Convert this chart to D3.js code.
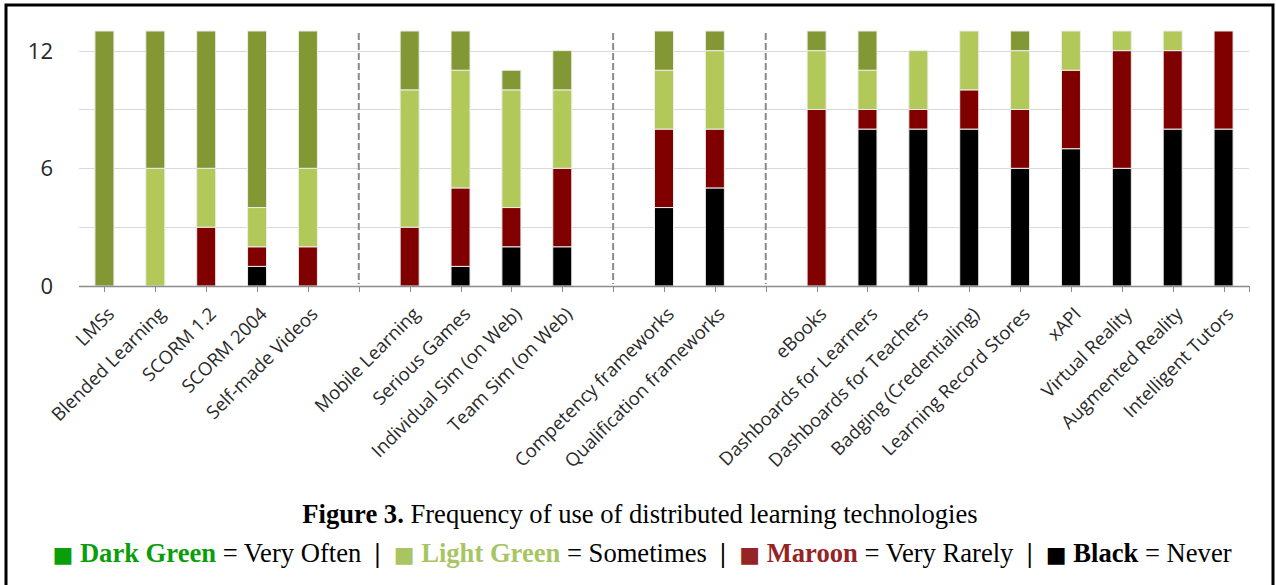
<!DOCTYPE html>
<html>
<head>
<meta charset="utf-8">
<script src="https://cdn.jsdelivr.net/npm/d3@7"></script>
<style>
  html, body { margin: 0; padding: 0; background: #fff; }
  svg { display: block; }
</style>
</head>
<body>
<svg id="chart" width="1276" height="585"></svg>
<script>
// ---- data ----
const categories = [
  "LMSs", "Blended Learning", "SCORM 1.2", "SCORM 2004", "Self-made Videos",
  "",
  "Mobile Learning", "Serious Games", "Individual Sim (on Web)", "Team Sim (on Web)",
  "",
  "Competency frameworks", "Qualification frameworks",
  "",
  "eBooks", "Dashboards for Learners", "Dashboards for Teachers", "Badging (Credentialing)",
  "Learning Record Stores", "xAPI", "Virtual Reality", "Augmented Reality", "Intelligent Tutors"
];
const never      = [0,0,0,1,0, 0, 0,1,2,2, 0, 4,5, 0, 0,8,8,8,6,7,6,8,8];
const veryRarely = [0,0,3,1,2, 0, 3,4,2,4, 0, 4,3, 0, 9,1,1,2,3,4,6,4,5];
const sometimes  = [0,6,3,2,4, 0, 7,6,6,4, 0, 3,4, 0, 3,2,3,3,3,2,1,1,0];
const veryOften  = [13,7,7,9,7, 0, 3,2,1,2, 0, 2,1, 0, 1,2,0,0,1,0,0,0,0];
const seriesKeys = ["never", "veryRarely", "sometimes", "veryOften"];
const seriesColors = ["#000000", "#800000", "#b2c95a", "#839834"];
const gridValues = [0, 3, 6, 9, 12];
const tickLabels = [0, 6, 12];
const captionBold = "Figure 3.";
const captionText = " Frequency of use of distributed learning technologies";
const legendItems = [
  {name: "Dark Green", meaning: "Very Often", color: "#0a9e0a"},
  {name: "Light Green", meaning: "Sometimes", color: "#a8c562"},
  {name: "Maroon", meaning: "Very Rarely", color: "#962424"},
  {name: "Black", meaning: "Never", color: "#000000"}
];

// ---- build ----
const svg = d3.select("#chart");
const rows = categories.map((c, i) => ({
  idx: i, name: c,
  never: never[i], veryRarely: veryRarely[i], sometimes: sometimes[i], veryOften: veryOften[i]
}));

const x = d3.scaleBand().domain(d3.range(categories.length)).range([79, 1249]).padding(0);
const y = d3.scaleLinear().domain([0, 13]).range([286, 31]);
const barW = 19;

// frame
svg.append("path")
  .attr("d", "M6,600 L6,5 L1273,5 L1273,600")
  .attr("fill", "none").attr("stroke", "#000").attr("stroke-width", 3);

// grid
svg.append("g").selectAll("line").data(gridValues.filter(v => v > 0)).join("line")
  .attr("x1", 79).attr("x2", 1249)
  .attr("y1", d => Math.round(y(d)) + 0.5).attr("y2", d => Math.round(y(d)) + 0.5)
  .attr("stroke", "#d9d9d9").attr("stroke-width", 1);

// y labels
svg.append("g").selectAll("text").data(tickLabels).join("text")
  .attr("x", 53).attr("y", d => y(d)).attr("dy", "0.36em")
  .attr("text-anchor", "end")
  .attr("font-family", "'Open Sans', sans-serif").attr("font-size", 22)
  .attr("fill", "#262626")
  .text(d => d);

// separators
svg.append("g").selectAll("line").data(rows.filter(r => r.name === "")).join("line")
  .attr("x1", d => x(d.idx) + x.bandwidth() / 2).attr("x2", d => x(d.idx) + x.bandwidth() / 2)
  .attr("y1", 33).attr("y2", 284)
  .attr("stroke", "#8a8a8a").attr("stroke-width", 2).attr("stroke-dasharray", "7,3");

// bars
const stack = d3.stack().keys(seriesKeys)(rows);
svg.append("g").selectAll("g").data(stack).join("g")
  .attr("fill", (d, i) => seriesColors[i])
  .selectAll("rect").data(d => d.filter(s => s[1] - s[0] > 0)).join("rect")
  .attr("x", d => x(d.data.idx) + x.bandwidth() / 2 - barW / 2)
  .attr("width", barW)
  .attr("y", d => y(d[1]))
  .attr("height", d => y(d[0]) - y(d[1]))
  .attr("stroke", "#ececec").attr("stroke-width", 1);

// x axis line and ticks
svg.append("line").attr("x1", 79).attr("x2", 1249).attr("y1", 286.5).attr("y2", 286.5)
  .attr("stroke", "#8c8c8c").attr("stroke-width", 1.5);
const tickXs = rows.map(r => x(r.idx) + x.bandwidth() / 2).concat([1249]);
svg.append("g").selectAll("line").data(tickXs).join("line")
  .attr("x1", d => Math.round(d) + 0.5).attr("x2", d => Math.round(d) + 0.5)
  .attr("y1", 286).attr("y2", 292)
  .attr("stroke", "#8c8c8c").attr("stroke-width", 1);

// x labels
svg.append("g").selectAll("text").data(rows.filter(r => r.name !== "")).join("text")
  .attr("transform", d => `translate(${x(d.idx) + x.bandwidth() / 2 + 2},${306}) rotate(-45)`)
  .attr("text-anchor", "end")
  .attr("dy", "0.7em")
  .attr("font-family", "'Open Sans', sans-serif").attr("font-size", 18.5)
  .attr("fill", "#2a2a2a")
  .text(d => d.name);

// caption
const cap = svg.append("text").attr("x", 640).attr("y", 523)
  .attr("text-anchor", "middle")
  .attr("font-family", "'Liberation Serif', 'Times New Roman', serif").attr("font-size", 26.6)
  .attr("fill", "#000");
cap.append("tspan").attr("font-weight", "bold").text(captionBold);
cap.append("tspan").text(captionText);

// legend
const leg = svg.append("text").attr("x", 642).attr("y", 562)
  .attr("text-anchor", "middle")
  .attr("font-family", "'Liberation Serif', 'Times New Roman', serif").attr("font-size", 26.6)
  .attr("fill", "#000")
  .attr("xml:space", "preserve");
legendItems.forEach((it, i) => {
  if (i > 0) leg.append("tspan").attr("font-weight", "bold").text("  |  ");
  leg.append("tspan").attr("fill", it.color).attr("font-family", "'DejaVu Sans', sans-serif").attr("font-size", 22).text("\u25A0");
  leg.append("tspan").text(" ");
  leg.append("tspan").attr("fill", it.color).attr("font-weight", "bold").text(it.name);
  leg.append("tspan").text(" = " + it.meaning);
});
</script>
</body>
</html>
